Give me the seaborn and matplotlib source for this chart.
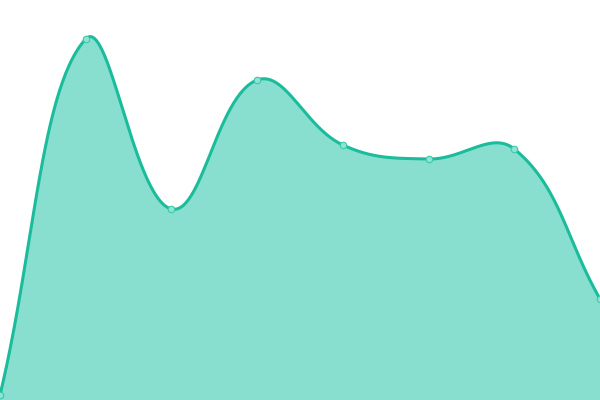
import numpy as np
import pandas as pd
import seaborn as sns
from matplotlib import pyplot as plt

# values (pixels above the bottom edge, 400px tall axis)
labels = ['p1', 'p2', 'p3', 'p4', 'p5', 'p6', 'p7', 'p8']
values = [5, 361, 191, 320, 255, 241, 251, 101]

line_color = '#1abc9c'
fill_color = '#89dfcf'
point_color = '#8fe3d2'

df = pd.DataFrame({'x': np.arange(len(labels)), 'y': values})

sns.set_style('white')
fig = plt.figure(figsize=(6, 4), dpi=100)
ax = fig.add_axes([0, 0, 1, 1])

# smooth curve, chart.js-like spline (tension 0.4) computed in pixel space
sx = 600 / (len(labels) - 1)
px = df['x'].values * sx
py = df['y'].values.astype(float)
t = 0.4
n = len(px)
cps = []
for i in range(n):
    p0 = (px[max(i - 1, 0)], py[max(i - 1, 0)])
    p1 = (px[i], py[i])
    p2 = (px[min(i + 1, n - 1)], py[min(i + 1, n - 1)])
    d01 = np.hypot(p1[0] - p0[0], p1[1] - p0[1])
    d12 = np.hypot(p2[0] - p1[0], p2[1] - p1[1])
    s01 = d01 / (d01 + d12) if d01 + d12 else 0
    s12 = d12 / (d01 + d12) if d01 + d12 else 0
    fa, fb = t * s01, t * s12
    cp_prev = (p1[0] - fa * (p2[0] - p0[0]), p1[1] - fa * (p2[1] - p0[1]))
    cp_next = (p1[0] + fb * (p2[0] - p0[0]), p1[1] + fb * (p2[1] - p0[1]))
    cps.append((cp_prev, cp_next))

cx, cy = [], []
u = np.linspace(0, 1, 60)
for i in range(n - 1):
    a = (px[i], py[i])
    b = cps[i][1]
    c = cps[i + 1][0]
    d = (px[i + 1], py[i + 1])
    bx = (1 - u)**3 * a[0] + 3 * (1 - u)**2 * u * b[0] + 3 * (1 - u) * u**2 * c[0] + u**3 * d[0]
    by = (1 - u)**3 * a[1] + 3 * (1 - u)**2 * u * b[1] + 3 * (1 - u) * u**2 * c[1] + u**3 * d[1]
    cx.extend(bx / sx)
    cy.extend(by)
cx = np.array(cx)
cy = np.array(cy)

ax.fill_between(cx, 0, cy, color=fill_color, linewidth=0)
ax.plot(cx, cy, color=line_color, linewidth=2.2)
sns.scatterplot(data=df, x='x', y='y', ax=ax, s=22, color=point_color,
                edgecolor='#3cc9aa', linewidth=0.8, zorder=5, legend=False)

ax.set_xlim(0, len(labels) - 1)
ax.set_ylim(0, 400)
ax.axis('off')

plt.savefig('out.png', dpi=100)
